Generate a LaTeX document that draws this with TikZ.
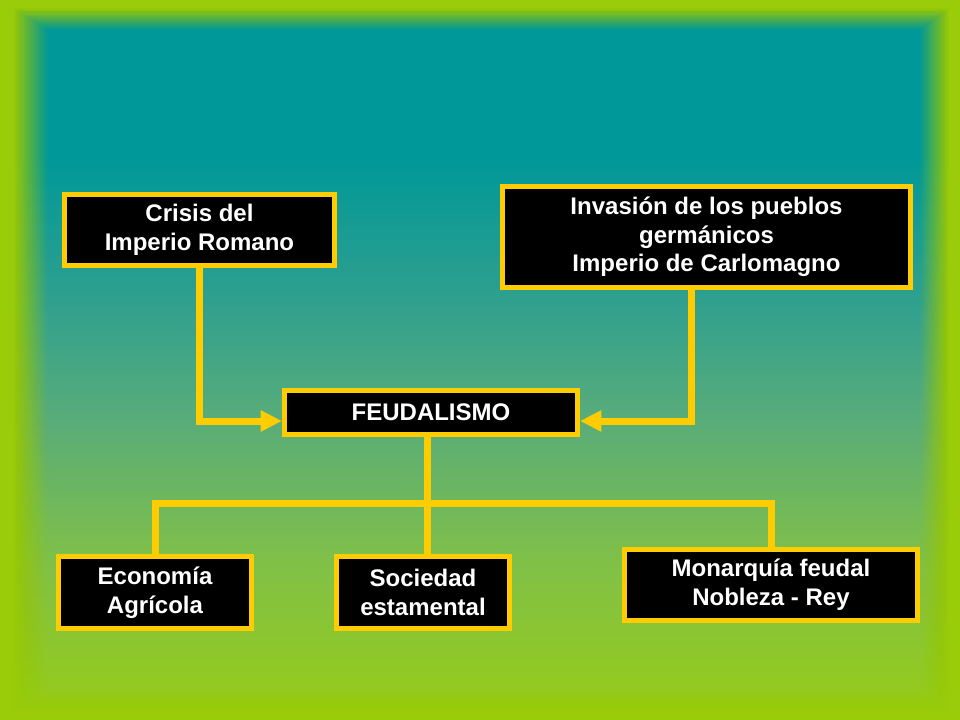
\documentclass[tikz,border=0pt]{standalone}
\usepackage{fontspec}
\setmainfont{Liberation Sans}
\usetikzlibrary{arrows.meta}
\definecolor{lime}{RGB}{155,204,10}
\definecolor{tealA}{RGB}{0,152,152}
\definecolor{cA}{RGB}{152,204,22}
\definecolor{cB}{RGB}{128,192,72}
\definecolor{cC}{RGB}{88,172,122}
\definecolor{cD}{RGB}{48,160,142}
\definecolor{gyel}{RGB}{255,204,0}
\pgfdeclareverticalshading{bgshade}{100bp}{color(0bp)=(cA); color(25bp)=(cA); color(36bp)=(cB); color(46bp)=(cC); color(54bp)=(cD); color(64bp)=(tealA); color(100bp)=(tealA)}
\tikzset{
  box/.style={draw=gyel, fill=black, line width=3.75pt, text=white, inner sep=0pt,
    align=center, font=\bfseries\fontsize{18pt}{21.5pt}\selectfont},
  conn/.style={draw=gyel, line width=5.25pt, line join=miter},
  arr/.style={conn, -{Triangle[length=16pt,width=15pt]}}
}
\begin{document}
\begin{tikzpicture}[x=0.75pt,y=-0.75pt]
\useasboundingbox (0,0) rectangle (960,720);
\shade[shading=bgshade] (0,0) rectangle (960,720);
\foreach \k in {1,...,24} {
  \pgfmathsetmacro\tk{(\k-0.5)/24}
  \pgfmathsetmacro\tn{(\k+0.5)/24}
  \pgfmathsetmacro\Tk{max(0,min(1,(1-\tk)/0.7))}
  \pgfmathsetmacro\Tn{max(0,min(1,(1-\tn)/0.7))}
  \pgfmathsetmacro\al{1-(1-\Tk)/max(0.0001,1-\Tn)}
  \pgfmathsetmacro\d{\k/24}
  \fill[lime, fill opacity=\al, even odd rule]
    (0,0) rectangle (960,720)
    ({48*\d},{30*\d}) rectangle ({960-40*\d},{720-30*\d});
}
\coordinate (j1) at (691,421);
\coordinate (bus) at (427,503);
\node[box, minimum width=202.5pt, minimum height=53.25pt] (crisis) at (199.5,230) {Crisis del\\Imperio Romano};
\node[box, minimum width=306pt, minimum height=75.75pt] (inv) at (706.5,237) {Invasión de los pueblos\\germánicos\\Imperio de Carlomagno};
\node[box, minimum width=219.75pt, minimum height=33pt] (feud) at (431,412.5) {FEUDALISMO};
\node[box, minimum width=144.75pt, minimum height=54pt] (econ) at (155,592.5) {Economía\\Agrícola};
\node[box, minimum width=129.75pt, minimum height=54pt] (soc) at (423,592.5) {Sociedad\\estamental};
\node[box, minimum width=219.75pt, minimum height=53.25pt] (mon) at (771,585) {Monarquía feudal\\Nobleza - Rey};
\draw[arr] (crisis.south) |- (feud.west |- j1);
\draw[arr] (inv.south -| j1) |- (feud.east |- j1);
\draw[conn] (feud.south -| bus) -- (bus);
\draw[conn] (econ.north) |- (bus);
\draw[conn] (mon.north) |- (bus);
\draw[conn] (soc.north -| bus) -- (bus);
\end{tikzpicture}
\end{document}
